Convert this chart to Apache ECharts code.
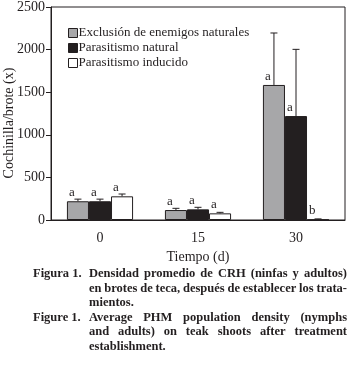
<!DOCTYPE html>
<html>
<head>
<meta charset="utf-8">
<script src="https://cdn.jsdelivr.net/npm/echarts@6/dist/echarts.min.js"></script>
<style>
html, body { margin: 0; padding: 0; background: #fff; }
#chart { width: 349px; height: 371px; }
</style>
</head>
<body>
<div id="chart"></div>
<script>
var categories = ['0', '15', '30'];
var seriesNames = ['Exclusión de enemigos naturales', 'Parasitismo natural', 'Parasitismo inducido'];
var exclusion = [220, 117, 1585];
var natural = [220, 125, 1220];
var induced = [278, 78, 5];
// upper error (distance above the mean)
var exclusionErr = [25, 20, 610];
var naturalErr = [25, 24, 783];
var inducedErr = [27, 12, 8];
var exclusionLetters = ['a', 'a', 'a'];
var naturalLetters = ['a', 'a', 'a'];
var inducedLetters = ['a', 'a', 'b'];
var yTicks = [0, 500, 1000, 1500, 2000, 2500];

var serif = '"Liberation Serif", "DejaVu Serif", serif';
var colors = ['#a7a7a9', '#231f20', '#ffffff'];
var means = [exclusion, natural, induced];
var errs = [exclusionErr, naturalErr, inducedErr];
var letters = [exclusionLetters, naturalLetters, inducedLetters];

var chart = echarts.init(document.getElementById('chart'));

function errSeries(k) {
  var data = categories.map(function (c, i) { return [i, means[k][i], errs[k][i]]; });
  return {
    type: 'custom',
    silent: true,
    z: 5,
    data: data,
    renderItem: function (params, api) {
      var i = api.value(0), m = api.value(1), e = api.value(2);
      var band = api.size([1, 0])[0];
      var bw = band * 0.225;
      var c = api.coord([i, m]);
      var cx = c[0] + (k - 1) * bw;
      var top = api.coord([i, m + e])[1];
      var left = cx - bw / 2;
      return {
        type: 'group',
        children: [
          { type: 'line', shape: { x1: cx, y1: c[1], x2: cx, y2: top }, style: { stroke: '#231f20', lineWidth: 1 } },
          { type: 'line', shape: { x1: cx - 3.5, y1: top, x2: cx + 3.5, y2: top }, style: { stroke: '#231f20', lineWidth: 1 } },
          { type: 'text', x: left + 2, y: c[1] - 2, style: { text: letters[k][params.dataIndex], font: '13px ' + serif, fill: '#231f20', textAlign: 'left', textVerticalAlign: 'bottom' } }
        ]
      };
    }
  };
}

// caption with justified lines
var capFont = 'bold 12.5px ' + serif;
var ctx = document.createElement('canvas').getContext('2d');
ctx.font = capFont;
function captionLine(text, x0, x1, y, justify) {
  var out = [];
  var words = text.split(' ');
  if (!justify || words.length < 2) {
    out.push({ type: 'text', left: x0, top: y, style: { text: text, font: capFont, fill: '#231f20' } });
    return out;
  }
  var total = 0;
  words.forEach(function (w) { total += ctx.measureText(w).width; });
  var gap = Math.max(2, (x1 - x0 - total) / (words.length - 1));
  var x = x0;
  words.forEach(function (w) {
    out.push({ type: 'text', left: x, top: y, style: { text: w, font: capFont, fill: '#231f20' } });
    x += ctx.measureText(w).width + gap;
  });
  return out;
}
var cap = [];
cap = cap.concat(captionLine('Figura 1.', 33, 88, 267.5, false));
cap = cap.concat(captionLine('Densidad promedio de CRH (ninfas y adultos)', 89, 347, 267.5, true));
cap = cap.concat(captionLine('en brotes de teca, después de establecer los trata-', 89, 347, 282, true));
cap = cap.concat(captionLine('mientos.', 89, 347, 296.5, false));
cap = cap.concat(captionLine('Figure 1.', 33, 88, 311, false));
cap = cap.concat(captionLine('Average PHM population density (nymphs', 89, 347, 311, true));
cap = cap.concat(captionLine('and adults) on teak shoots after treatment', 89, 347, 325.5, true));
cap = cap.concat(captionLine('establishment.', 89, 347, 340, false));

// y-axis title
cap.push({
  type: 'text', x: 9, y: 123, rotation: Math.PI / 2,
  style: { text: 'Cochinilla/brote (x)', font: '14px ' + serif, fill: '#231f20', textAlign: 'center', textVerticalAlign: 'middle' }
});

var barSeries = seriesNames.map(function (name, k) {
  return {
    name: name,
    type: 'bar',
    data: means[k],
    barWidth: '22.5%',
    barGap: '0%',
    itemStyle: { color: colors[k], borderColor: '#231f20', borderWidth: 1 }
  };
});

chart.setOption({
  animation: false,
  textStyle: { fontFamily: serif },
  grid: {
    left: 51, right: 4, top: 7, bottom: 151,
    outerBoundsMode: 'none', containLabel: false,
    show: true, borderColor: '#231f20', borderWidth: 1
  },
  legend: {
    data: seriesNames.map(function (n, k) {
      return { name: n, itemStyle: { color: colors[k], borderColor: '#231f20', borderWidth: 1 } };
    }),
    orient: 'vertical',
    left: 68,
    top: 26,
    padding: 0,
    itemWidth: 9,
    itemHeight: 9,
    itemGap: 1,
    icon: 'rect',
    textStyle: { fontFamily: serif, fontSize: 13, lineHeight: 14, color: '#231f20', padding: [0, 0, 0, -4] }
  },
  xAxis: {
    type: 'category',
    data: categories,
    name: 'Tiempo (d)',
    nameLocation: 'middle',
    nameGap: 28,
    nameTextStyle: { fontFamily: serif, fontSize: 14, color: '#231f20' },
    axisLine: { lineStyle: { color: '#231f20' } },
    axisTick: { alignWithLabel: false, length: 5, lineStyle: { color: '#231f20' } },
    axisLabel: { fontFamily: serif, fontSize: 14, color: '#231f20', margin: 11 }
  },
  yAxis: {
    type: 'value',
    min: 0,
    max: 2500,
    interval: 500,
    axisLine: { show: true, lineStyle: { color: '#231f20' } },
    axisTick: { show: true, length: 5, lineStyle: { color: '#231f20' } },
    splitLine: { show: false },
    axisLabel: {
      fontFamily: serif, fontSize: 14, color: '#231f20', margin: 6,
      formatter: function (v) { return yTicks.indexOf(v) >= 0 ? String(v) : ''; }
    }
  },
  series: barSeries.concat([errSeries(0), errSeries(1), errSeries(2)]),
  graphic: cap
});
</script>
</body>
</html>
